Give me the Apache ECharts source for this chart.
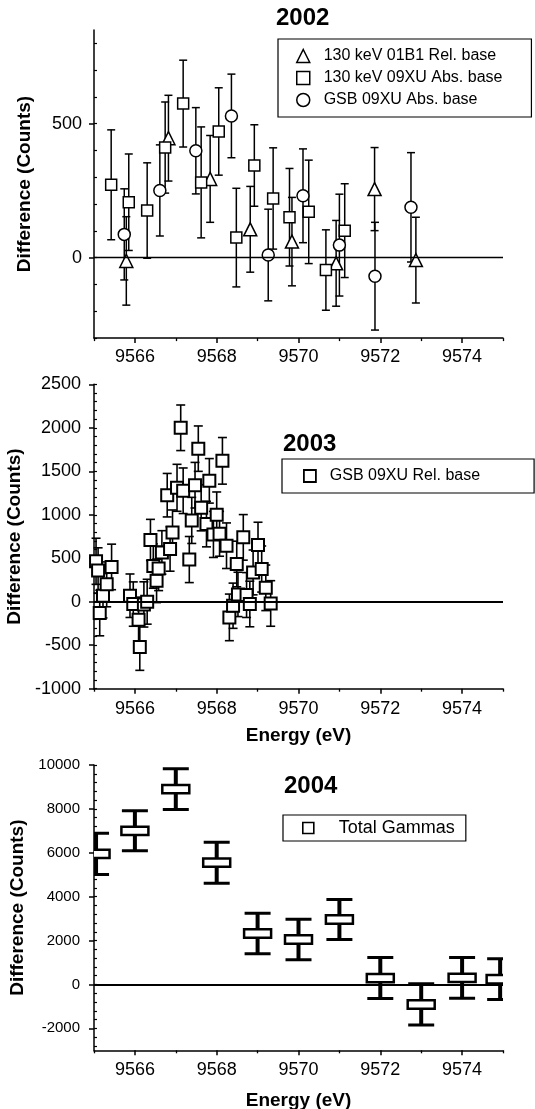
<!DOCTYPE html>
<html><head><meta charset="utf-8">
<script src="https://cdn.jsdelivr.net/npm/echarts@6/dist/echarts.min.js"></script>
<style>html,body{margin:0;padding:0;background:#fff}#c{width:535px;height:1109px}</style>
</head><body><div id="c"></div>
<script>
const FONT = '"Liberation Sans", Arial, Helvetica, sans-serif';

// ---------- tick labels ----------
const xTicksMajor = [9566, 9568, 9570, 9572, 9574];
const xTicksMinor = [9565, 9567, 9569, 9571, 9573, 9575];
const y02Labels = [0, 500];
const y02Minor = [-300, -200, -100, 0, 100, 200, 300, 400, 500, 600, 700, 800];
const y03Labels = [-1000, -500, 0, 500, 1000, 1500, 2000, 2500];
const y03Minor = [-1000, -900, -800, -700, -600, -500, -400, -300, -200, -100, 0, 100, 200, 300, 400, 500, 600, 700, 800, 900,
  1000, 1100, 1200, 1300, 1400, 1500, 1600, 1700, 1800, 1900, 2000, 2100, 2200, 2300, 2400, 2500];
const y04Labels = [-2000, 0, 2000, 4000, 6000, 8000, 10000];
const y04Minor = [-2800, -2400, -2000, -1600, -1200, -800, -400, 0, 400, 800, 1200, 1600, 2000, 2400, 2800, 3200, 3600, 4000,
  4400, 4800, 5200, 5600, 6000, 6400, 6800, 7200, 7600, 8000, 8400, 8800, 9200, 9600, 10000];

// ---------- 2002 ----------
const name02Tri = '130 keV 01B1 Rel. base';
const name02Sq = '130 keV 09XU Abs. base';
const name02Ci = 'GSB 09XU Abs. base';
const x02Tri = [9565.79, 9566.82, 9567.84, 9568.82, 9569.84, 9570.92, 9571.86, 9572.87];
const y02Tri = [-12, 446, 294, 106, 60, -21, 256, -9];
const e02Tri = [165, 160, 162, 160, 165, 160, 155, 160];
const x02Sq = [9565.42, 9565.85, 9566.30, 9566.74, 9567.18, 9567.62, 9568.05, 9568.48, 9568.92, 9569.38, 9569.78, 9570.25, 9570.67, 9571.13];
const y02Sq = [272, 207, 176, 411, 575, 281, 471, 75, 344, 221, 151, 171, -46, 101];
const e02Sq = [205, 180, 178, 170, 162, 207, 163, 184, 152, 189, 182, 193, 150, 175];
const x02Ci = [9565.74, 9566.61, 9567.49, 9568.36, 9569.26, 9570.11, 9571.00, 9571.87, 9572.75];
const y02Ci = [87, 251, 399, 529, 10, 231, 47, -69, 188];
const e02Ci = [170, 170, 161, 156, 171, 175, 190, 201, 204];

// ---------- 2003 ----------
const name03 = 'GSB 09XU Rel. base';
const x03 = [9565.05, 9565.10, 9565.14, 9565.22, 9565.31, 9565.43, 9565.88, 9565.96, 9566.09, 9566.12,
  9566.22, 9566.30, 9566.38, 9566.45, 9566.53, 9566.58, 9566.66, 9566.79, 9566.86, 9566.92,
  9567.03, 9567.12, 9567.18, 9567.33, 9567.39, 9567.47, 9567.55, 9567.62, 9567.75, 9567.82,
  9567.92, 9568.00, 9568.07, 9568.14, 9568.24, 9568.31, 9568.40, 9568.49, 9568.52, 9568.65,
  9568.73, 9568.81, 9568.89, 9569.01, 9569.10, 9569.20, 9569.32];
const y03 = [465, 360, -130, 69, 200, 400, 69, -27, -207, -521,
  -31, 0, 710, 410, 240, 383, 567, 1225, 606, 797,
  1310, 2000, 1276, 485, 935, 1340, 1760, 1080, 893, 1390,
  774, 1000, 781, 1620, 644, -180, -46, 434, 84, 740,
  77, -26, 337, 652, 376, 160, -20];
const e03 = [265, 260, 262, 255, 258, 262, 250, 255, 260, 268,
  260, 258, 237, 255, 250, 255, 250, 250, 255, 258,
  270, 262, 262, 265, 265, 262, 261, 265, 262, 256,
  265, 262, 258, 268, 262, 268, 260, 262, 255, 262,
  258, 262, 258, 262, 265, 262, 262];

// ---------- 2004 ----------
const name04 = 'Total Gammas';
const x04 = [9565.05, 9566, 9567, 9568, 9569, 9570, 9571, 9572, 9573, 9574, 9574.93];
const y04 = [5950, 7000, 8900, 5550, 2320, 2050, 2960, 290, -910, 300, 240];
const e04 = [935, 910, 930, 935, 925, 920, 910, 935, 940, 930, 930];

// ---------- helpers ----------
const zip = (xs, ys, es) => xs.map((x, i) => es ? [x, ys[i], es[i]] : [x, ys[i]]);
const BLACK = '#000';
const plain = (v) => String(v);

function errRender(cap, barLw, capLw, box) {
  return function (params, api) {
    const x = api.value(0), y = api.value(1), e = api.value(2);
    const p0 = api.coord([x, y + e]);
    const p1 = api.coord([x, y - e]);
    const h = cap / 2;
    const children = [
      { type: 'line', shape: { x1: p0[0], y1: p0[1], x2: p1[0], y2: p1[1] }, style: { stroke: BLACK, lineWidth: barLw } },
      { type: 'line', shape: { x1: p0[0] - h, y1: p0[1], x2: p0[0] + h, y2: p0[1] }, style: { stroke: BLACK, lineWidth: capLw } },
      { type: 'line', shape: { x1: p1[0] - h, y1: p1[1], x2: p1[0] + h, y2: p1[1] }, style: { stroke: BLACK, lineWidth: capLw } }
    ];
    if (box) {
      const c = api.coord([x, y]);
      children.push({ type: 'rect', shape: { x: c[0] - box[0] / 2, y: c[1] - box[1] / 2, width: box[0], height: box[1] },
        style: { fill: '#fff', stroke: BLACK, lineWidth: box[2] } });
    }
    return { type: 'group', children };
  };
}
function errSeries(g, data, cap, barLw, capLw, box, name) {
  const s = { type: 'custom', xAxisIndex: 2 * g, yAxisIndex: 2 * g, data, encode: { x: 0, y: 1 },
    renderItem: errRender(cap, barLw, capLw, box), silent: true, z: 2, clip: !!box };
  if (name) s.name = name;
  return s;
}
const zeroLine = (w) => ({ silent: true, symbol: ['none', 'none'], label: { show: false }, animation: false,
  lineStyle: { color: BLACK, width: w, type: 'solid' }, emphasis: { disabled: true }, data: [{ yAxis: 0 }] });
const mk = (bw) => ({ color: '#fff', borderColor: BLACK, borderWidth: bw, opacity: 1 });

function xAxes(g, name, nameGap, margin) {
  const main = { type: 'value', gridIndex: g, min: 9565, max: 9575, position: 'bottom',
    axisLine: { show: true, onZero: false, lineStyle: { color: BLACK, width: 1.5 } },
    axisTick: { show: true, customValues: xTicksMajor, length: 5, lineStyle: { color: BLACK, width: 1.5 } },
    axisLabel: { customValues: xTicksMajor, formatter: plain, color: BLACK, fontSize: 18, fontFamily: FONT, margin },
    splitLine: { show: false } };
  if (name) {
    Object.assign(main, { name, nameLocation: 'middle', nameGap,
      nameTextStyle: { color: BLACK, fontSize: 19, fontWeight: 'bold', fontFamily: FONT } });
  }
  const minor = { type: 'value', gridIndex: g, min: 9565, max: 9575, position: 'bottom',
    axisLine: { show: false, onZero: false }, axisLabel: { show: false }, splitLine: { show: false },
    axisTick: { show: true, customValues: xTicksMinor, length: 3, lineStyle: { color: BLACK, width: 1.3 } } };
  return [main, minor];
}
function yAxes(g, min, max, labels, minorVals, fs, margin, nameGap) {
  const main = { type: 'value', gridIndex: g, min, max, position: 'left',
    axisLine: { show: true, onZero: false, lineStyle: { color: BLACK, width: 1.5 } },
    axisTick: { show: true, customValues: labels, length: 5, lineStyle: { color: BLACK, width: 1.5 } },
    axisLabel: { customValues: labels, formatter: plain, color: BLACK, fontSize: fs, fontFamily: FONT, margin },
    splitLine: { show: false },
    name: 'Difference (Counts)', nameLocation: 'middle', nameRotate: 90, nameGap,
    nameTextStyle: { color: BLACK, fontSize: 19, fontWeight: 'bold', fontFamily: FONT } };
  const minor = { type: 'value', gridIndex: g, min, max, position: 'left',
    axisLine: { show: false, onZero: false }, axisLabel: { show: false }, splitLine: { show: false },
    axisTick: { show: true, inside: true, customValues: minorVals, length: 3, lineStyle: { color: BLACK, width: 1.2 } } };
  return [main, minor];
}
const titleStyle = { fontSize: 24, fontWeight: 'bold', fontFamily: FONT, color: BLACK };
const legendBase = { orient: 'vertical', selectedMode: false, borderColor: BLACK, borderWidth: 1.2, borderRadius: 0,
  backgroundColor: '#fff' };

const option = {
  animation: false,
  backgroundColor: '#fff',
  title: [
    { text: '2002', left: 276, top: 6, padding: 0, textStyle: titleStyle },
    { text: '2003', left: 283, top: 432, padding: 0, textStyle: titleStyle },
    { text: '2004', left: 284, top: 774, padding: 0, textStyle: titleStyle }
  ],
  grid: [
    { left: 94, width: 409, top: 29.9, height: 308.2, outerBoundsMode: 'none', containLabel: false },
    { left: 94, width: 409, top: 384.3, height: 304.4, outerBoundsMode: 'none', containLabel: false },
    { left: 94, width: 409, top: 765, height: 285.3, outerBoundsMode: 'none', containLabel: false }
  ],
  xAxis: [
    ...xAxes(0, null, 0, 9.5),
    ...xAxes(1, 'Energy (eV)', 38, 11),
    ...xAxes(2, 'Energy (eV)', 41, 10.5)
  ],
  yAxis: [
    ...yAxes(0, -300, 850, y02Labels, y02Minor, 18, 12, 60),
    ...yAxes(1, -1000, 2500, y03Labels, y03Minor, 18, 13, 60),
    ...yAxes(2, -3000, 10000, y04Labels, y04Minor, 15, 14, 67)
  ],
  legend: [
    Object.assign({}, legendBase, {
      left: 278, top: 39, padding: [8, 29, 8, 18], itemWidth: 13, itemHeight: 13, itemGap: 4,
      formatter: (n) => '  ' + n,
      textStyle: { color: BLACK, fontSize: 16, fontFamily: FONT, lineHeight: 18 },
      data: [
        { name: name02Tri, icon: 'triangle', itemStyle: mk(1.5) },
        { name: name02Sq, icon: 'rect', itemStyle: mk(1.5) },
        { name: name02Ci, icon: 'circle', itemStyle: mk(1.5) }
      ] }),
    Object.assign({}, legendBase, {
      left: 282, top: 459, padding: [8, 54, 8, 21], itemWidth: 12, itemHeight: 12,
      formatter: (n) => '  ' + n,
      textStyle: { color: BLACK, fontSize: 16, fontFamily: FONT, lineHeight: 18 },
      data: [{ name: name03, icon: 'rect', itemStyle: mk(1.8) }] }),
    Object.assign({}, legendBase, {
      left: 283, top: 815, padding: [3, 11, 3, 19], itemWidth: 11, itemHeight: 11,
      formatter: (n) => '    ' + n,
      textStyle: { color: BLACK, fontSize: 18, fontFamily: FONT, lineHeight: 20 },
      data: [{ name: name04, icon: 'rect', itemStyle: mk(1.6) }] })
  ],
  series: [
    // 2002
    errSeries(0, zip(x02Tri, y02Tri, e02Tri), 8, 1.5, 1.5),
    errSeries(0, zip(x02Sq, y02Sq, e02Sq), 8, 1.5, 1.5),
    errSeries(0, zip(x02Ci, y02Ci, e02Ci), 8, 1.5, 1.5),
    { type: 'scatter', name: name02Tri, xAxisIndex: 0, yAxisIndex: 0, symbol: 'triangle', symbolSize: 13,
      itemStyle: mk(1.5), data: zip(x02Tri, y02Tri), z: 3, markLine: zeroLine(1.3) },
    { type: 'scatter', name: name02Sq, xAxisIndex: 0, yAxisIndex: 0, symbol: 'rect', symbolSize: 11,
      itemStyle: mk(1.5), data: zip(x02Sq, y02Sq), z: 3 },
    { type: 'scatter', name: name02Ci, xAxisIndex: 0, yAxisIndex: 0, symbol: 'circle', symbolSize: 12,
      itemStyle: mk(1.5), data: zip(x02Ci, y02Ci), z: 3 },
    // 2003
    errSeries(1, zip(x03, y03, e03), 9, 1.6, 1.6),
    { type: 'scatter', name: name03, xAxisIndex: 2, yAxisIndex: 2, symbol: 'rect', symbolSize: 12,
      itemStyle: mk(2), data: zip(x03, y03), z: 3, markLine: zeroLine(2) },
    // 2004
    { type: 'scatter', xAxisIndex: 4, yAxisIndex: 4, data: [], markLine: zeroLine(2) },
    errSeries(2, zip(x04, y04, e04), 26, 4, 3, [27, 8.4, 2.5], name04)
  ]
};

const chart = echarts.init(document.getElementById('c'), null, { renderer: 'canvas' });
chart.setOption(option);
</script></body></html>
